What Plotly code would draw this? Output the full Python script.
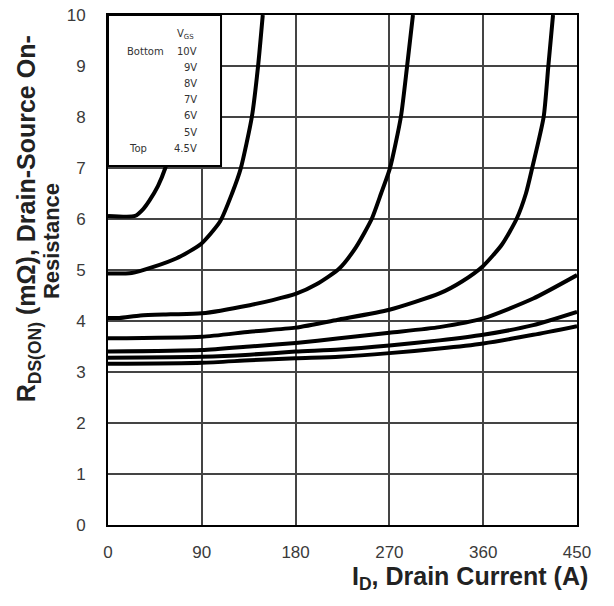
import plotly.graph_objects as go

# ---- data ----
vgs_labels = ["4.5V", "5V", "6V", "7V", "8V", "9V", "10V"]

id_45 = [0, 26, 34, 40, 48, 55, 62, 70, 78, 85]
r_45 = [6.06, 6.06, 6.2, 6.37, 6.65, 7.0, 7.5, 8.2, 9.0, 10]

id_5 = [0, 22.7, 43.5, 65.9, 89.2, 107.5, 119, 127.5, 138, 144, 148.5]
r_5 = [4.93, 4.94, 5.06, 5.23, 5.51, 5.95, 6.5, 7.0, 8.0, 9.0, 10]

id_6 = [0, 11, 31, 60, 90, 136, 158, 180, 200, 222, 238, 253, 262, 270.6, 281, 287, 292.6]
r_6 = [4.06, 4.06, 4.11, 4.13, 4.15, 4.31, 4.41, 4.53, 4.72, 5.03, 5.45, 6.0, 6.5, 7.0, 8.0, 9.0, 10]

id_7 = [0, 90, 136, 180, 222, 270, 318, 340, 360, 378, 392, 401, 407, 418, 422.5, 427]
r_7 = [3.66, 3.69, 3.79, 3.87, 4.03, 4.22, 4.54, 4.78, 5.08, 5.5, 6.0, 6.5, 7.0, 8.0, 9.0, 10]

id_8 = [0, 90, 136, 180, 222, 270, 318, 360, 408, 450]
r_8 = [3.40, 3.43, 3.50, 3.57, 3.66, 3.77, 3.88, 4.05, 4.44, 4.9]

id_9 = [0, 90, 136, 180, 222, 270, 318, 360, 408, 450]
r_9 = [3.28, 3.30, 3.34, 3.40, 3.44, 3.52, 3.62, 3.73, 3.92, 4.18]

id_10 = [0, 90, 136, 180, 222, 270, 318, 360, 408, 450]
r_10 = [3.16, 3.18, 3.23, 3.27, 3.30, 3.37, 3.46, 3.56, 3.73, 3.90]

x_ticks = [0, 90, 180, 270, 360, 450]
y_ticks = [0, 1, 2, 3, 4, 5, 6, 7, 8, 9, 10]

legend_rows = ["10V", "9V", "8V", "7V", "6V", "5V", "4.5V"]

series = [
    (id_45, r_45), (id_5, r_5), (id_6, r_6), (id_7, r_7),
    (id_8, r_8), (id_9, r_9), (id_10, r_10),
]

FONT = "Liberation Sans, Arial, sans-serif"

fig = go.Figure()
for name, (xs, ys) in zip(vgs_labels, series):
    fig.add_trace(go.Scatter(
        x=xs, y=ys, mode="lines", name=name,
        line=dict(color="black", width=4, shape="spline", smoothing=0.6),
        showlegend=False,
    ))

fig.update_layout(
    width=606, height=598,
    margin=dict(l=100, r=37, t=7, b=81, autoexpand=False),
    paper_bgcolor="white", plot_bgcolor="white",
    font=dict(family=FONT, color="#333333"),
    showlegend=False,
)
fig.update_xaxes(
    range=[0, 450], tickvals=x_ticks, ticktext=[str(v) for v in x_ticks],
    showgrid=True, gridcolor="#444444", gridwidth=1.5,
    showline=True, linecolor="black", linewidth=2, mirror=True,
    ticks="", ticklabelstandoff=11, zeroline=False, automargin=False,
    ticklabeloverflow="allow",
    tickfont=dict(family=FONT, size=17, color="#3a3a3a"),
)
fig.update_yaxes(
    range=[0, 10], tickvals=y_ticks, ticktext=[str(v) for v in y_ticks],
    showgrid=True, gridcolor="#444444", gridwidth=1.5,
    showline=True, linecolor="black", linewidth=2, mirror=True,
    ticks="", ticklabelstandoff=17, zeroline=False, automargin=False,
    ticklabeloverflow="allow",
    tickfont=dict(family=FONT, size=17, color="#3a3a3a"),
)

# axis titles (paper coords relative to plot area: x px 108..577, y px 15..525)
fig.add_annotation(
    xref="paper", yref="paper", x=-0.17, y=0.60,
    text="<b>R<sub>DS(ON)</sub> (mΩ), Drain-Source On-</b>",
    textangle=-90, showarrow=False, xanchor="center", yanchor="middle",
    font=dict(family=FONT, size=25, color="#222222"),
)
fig.add_annotation(
    xref="paper", yref="paper", x=-0.119, y=0.557,
    text="<b>Resistance</b>",
    textangle=-90, showarrow=False, xanchor="center", yanchor="middle",
    font=dict(family=FONT, size=22, color="#222222"),
)
fig.add_annotation(
    xref="paper", yref="paper", x=1.028, y=-0.104,
    text="<b>I<sub>D</sub>, Drain Current (A)</b>",
    showarrow=False, xanchor="right", yanchor="middle",
    font=dict(family=FONT, size=25, color="#222222"),
)

# legend box
fig.add_shape(type="rect", xref="paper", yref="paper",
              x0=0, x1=0.241, y0=0.704, y1=1.0,
              line=dict(color="black", width=2), fillcolor="white", layer="above")
lfont = dict(family="DejaVu Sans, sans-serif", size=10, color="#333333")
fig.add_annotation(xref="paper", yref="paper", x=0.166, y=0.962,
                   text="V<sub>GS</sub>", showarrow=False,
                   xanchor="center", yanchor="middle", font=lfont)
row_y0 = 0.929
row_dy = 0.0317
for i, lab in enumerate(legend_rows):
    fig.add_annotation(xref="paper", yref="paper", x=0.194, y=row_y0 - i * row_dy,
                       text=lab, showarrow=False, xanchor="right", yanchor="middle",
                       font=lfont)
fig.add_annotation(xref="paper", yref="paper", x=0.124, y=row_y0,
                   text="Bottom", showarrow=False, xanchor="right", yanchor="middle",
                   font=lfont)
fig.add_annotation(xref="paper", yref="paper", x=0.064, y=row_y0 - 6 * row_dy,
                   text="Top", showarrow=False, xanchor="center", yanchor="middle",
                   font=lfont)

fig.write_html("out.html")
